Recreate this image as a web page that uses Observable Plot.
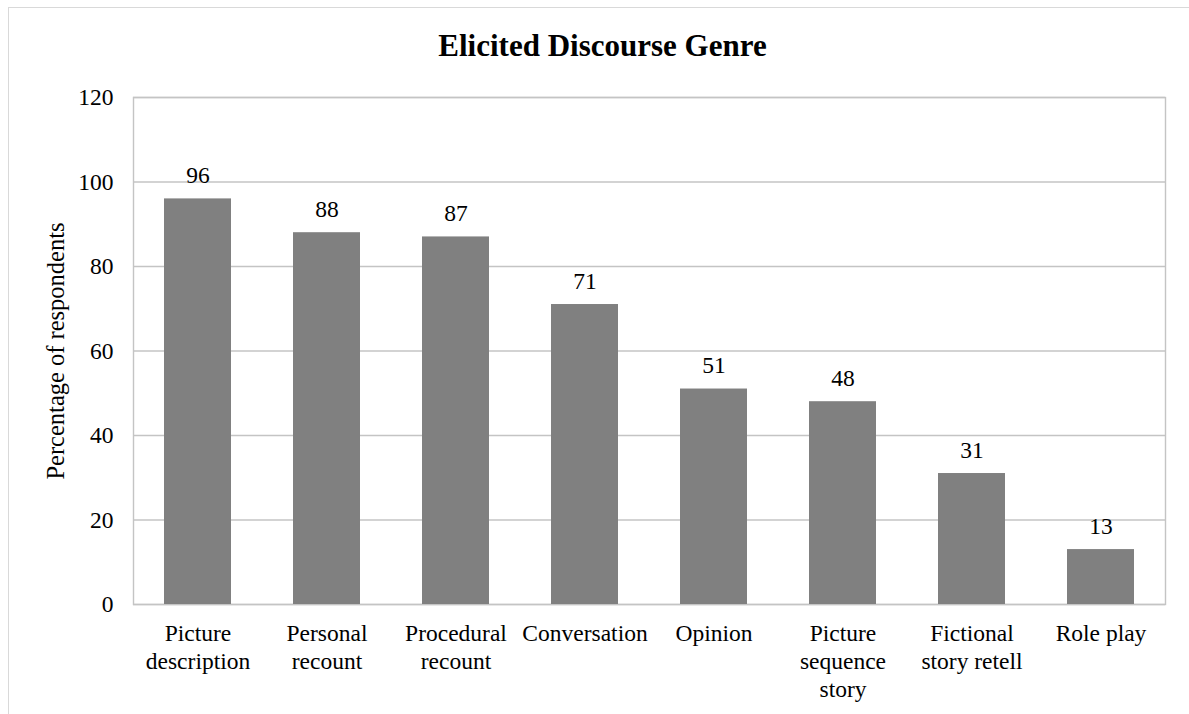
<!DOCTYPE html>
<html>
<head>
<meta charset="utf-8">
<script src="https://cdn.jsdelivr.net/npm/d3@7"></script>
<script src="https://cdn.jsdelivr.net/npm/@observablehq/plot@0.6"></script>
<style>
  html, body { margin: 0; padding: 0; background: #fff; }
  #wrap { position: relative; width: 1189px; height: 714px; overflow: hidden; }
  #border {
    position: absolute; left: 8px; top: 7px; width: 1220px; height: 740px;
    border: 1.5px solid #d9d9d9; box-sizing: border-box;
  }
  #title {
    position: absolute; left: 0; width: 1205px; top: 28px; text-align: center;
    font-family: "Liberation Serif", "Times New Roman", Times, "DejaVu Serif", serif; font-weight: bold;
    font-size: 31px; line-height: 36px; color: #000;
  }
  #chart { position: absolute; left: 0; top: 0; }
  #chart svg, #chart svg text { font-family: "Liberation Serif", "Times New Roman", Times, "DejaVu Serif", serif !important; }
</style>
</head>
<body>
<div id="wrap">
  <div id="border"></div>
  <div id="title">Elicited Discourse Genre</div>
  <div id="chart"></div>
</div>
<script>
// Discourse genres elicited, share of respondents (%)
const genres = [
  "Picture description", "Personal recount", "Procedural recount", "Conversation",
  "Opinion", "Picture sequence story", "Fictional story retell", "Role play"
];
const percentages = [96, 88, 87, 71, 51, 48, 31, 13];
// Wrapped category labels as printed under the axis
const genreLabels = [
  "Picture\ndescription", "Personal\nrecount", "Procedural\nrecount", "Conversation",
  "Opinion", "Picture\nsequence\nstory", "Fictional\nstory retell", "Role play"
];
const yTicks = [0, 20, 40, 60, 80, 100, 120];
const yTitle = "Percentage of respondents";

const rows = genres.map((g, i) => ({genre: g, value: percentages[i], label: genreLabels[i]}));
const labelOf = new Map(rows.map(d => [d.genre, d.label]));

const serif = "'Liberation Serif', 'Times New Roman', Times, 'DejaVu Serif', serif";

const chart = Plot.plot({
  width: 1189,
  height: 714,
  marginLeft: 133,
  marginRight: 24,
  marginTop: 97,
  marginBottom: 110,
  style: {fontFamily: serif, fontSize: "23.5px", color: "#000", background: "transparent"},
  x: {domain: genres, paddingInner: 0.48, paddingOuter: 0.24},
  y: {domain: [0, 120]},
  marks: [
    Plot.gridY(yTicks, {stroke: "#c4c4c4", strokeOpacity: 1, strokeWidth: 1.4}),
    Plot.frame({stroke: "#c4c4c4", strokeWidth: 1.4}),
    Plot.barY(rows, {x: "genre", y: "value", fill: "#808080"}),
    Plot.text(rows, {x: "genre", y: "value", text: d => String(d.value), lineAnchor: "bottom", dy: -16, fontSize: 23.5, fill: "#000", fontFamily: serif}),
    Plot.axisX({tickSize: 0, tickPadding: 17, tickFormat: d => labelOf.get(d), lineHeight: 1.19, label: null, fontSize: 23.5, fontFamily: serif}),
    Plot.axisY(yTicks, {tickSize: 0, tickPadding: 20, label: null, fontSize: 23.5, fontFamily: serif}),
    Plot.text([yTitle], {frameAnchor: "left", text: d => d, rotate: -90, dx: -70, lineAnchor: "bottom", textAnchor: "middle", fontSize: 24.5, fill: "#000", fontFamily: serif})
  ]
});
document.getElementById("chart").appendChild(chart);
</script>
</body>
</html>
